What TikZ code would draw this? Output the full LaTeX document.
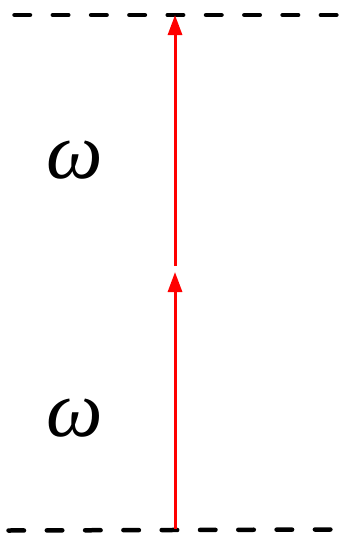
\documentclass[tikz,border=0pt]{standalone}
\usepackage{fontspec}
\newfontfamily\tmsfont{Liberation Serif}
\usetikzlibrary{arrows.meta}
\begin{document}
\begin{tikzpicture}[x=1pt,y=-1pt,
  level/.style={line width=4.5pt,line cap=round,dash pattern=on 15.5pt off 22.8pt},
  trans/.style={red,line width=3pt,-{Triangle[length=20pt,width=14pt]}},
  lbl/.style={font=\tmsfont\itshape\fontsize{80}{80}\selectfont,inner sep=0pt}]
\useasboundingbox (0,0) rectangle (340,538);
\draw[level] (14.5,15) -- (338,15);
\draw[level] (8.5,530.5) -- (332,529.5);
\coordinate (g) at (175,529);
\coordinate (m) at (175,272);
\coordinate (m2) at (175,266);
\coordinate (e) at (175,15);
\draw[trans] (g) -- (m);
\draw[trans] (m2) -- (e);
\node[lbl,anchor=base] (w1) at (75,178) {ω};
\node[lbl,anchor=base] (w2) at (75,436) {ω};
\end{tikzpicture}
\end{document}
